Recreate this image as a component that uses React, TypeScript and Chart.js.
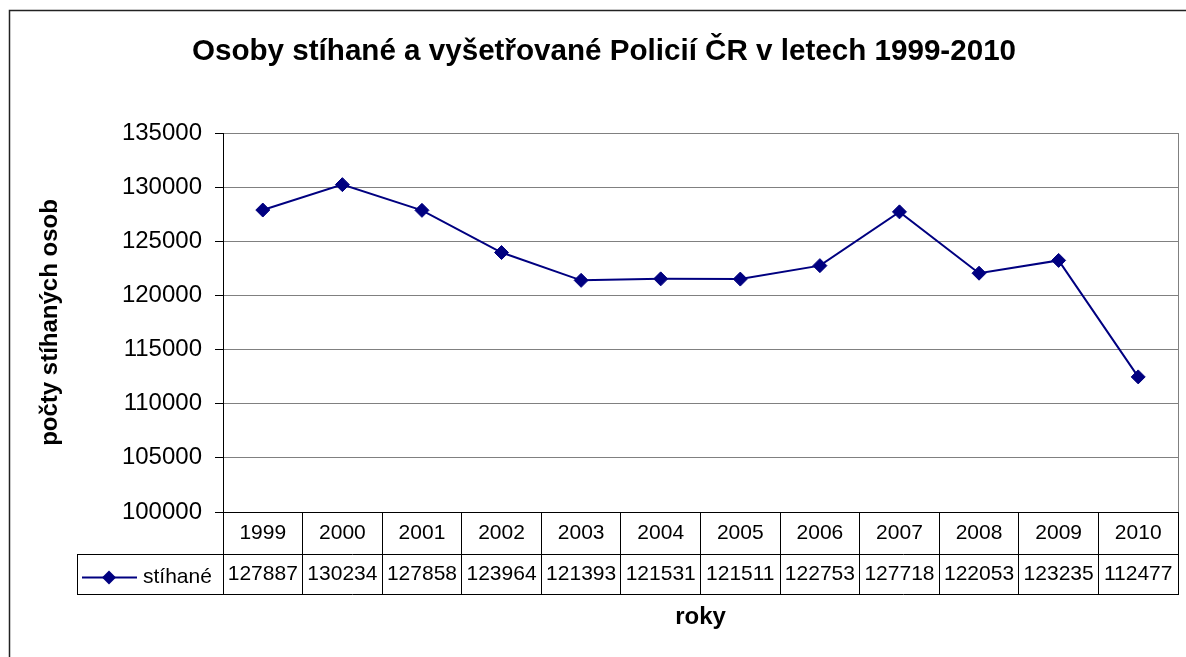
import React, { useEffect, useRef } from "react";
import { Chart, registerables } from "chart.js";

Chart.register(...registerables);

const chartTitle = "Osoby stíhané a vyšetřované Policií ČR v letech 1999-2010";
const years = ["1999", "2000", "2001", "2002", "2003", "2004", "2005", "2006", "2007", "2008", "2009", "2010"];
const stihane = [127887, 130234, 127858, 123964, 121393, 121531, 121511, 122753, 127718, 122053, 123235, 112477];
const seriesName = "stíhané";
const yMin = 100000;
const yMax = 135000;
const yStep = 5000;
const yAxisTitle = "počty stíhaných osob";
const xAxisTitle = "roky";

const FONT = "'Liberation Sans', Arial, sans-serif";
const NAVY = "#000080";

const al = (v: number) => Math.floor(v) + 0.5;

const tablePlugin = {
  id: "dataTable",
  afterDraw(chart: any) {
    const { ctx, chartArea, scales } = chart;
    const xs = scales.x;
    const top = xs.top;
    const row1 = top + 42;
    const row2 = top + 82;
    const legendLeft = 77;
    ctx.save();
    // outer frame
    ctx.strokeStyle = "#222";
    ctx.lineWidth = 1.5;
    ctx.beginPath();
    ctx.moveTo(9.5, chart.height);
    ctx.lineTo(9.5, 10.5);
    ctx.lineTo(chart.width, 10.5);
    ctx.stroke();
    ctx.lineWidth = 1;
    // plot area right border
    ctx.strokeStyle = "#808080";
    ctx.beginPath();
    ctx.moveTo(al(chartArea.right), chartArea.top);
    ctx.lineTo(al(chartArea.right), chartArea.bottom);
    ctx.stroke();
    // table lines
    ctx.strokeStyle = "#000";
    ctx.beginPath();
    ctx.moveTo(legendLeft, al(row1));
    ctx.lineTo(chartArea.right + 1, al(row1));
    ctx.moveTo(legendLeft, al(row2));
    ctx.lineTo(chartArea.right + 1, al(row2));
    ctx.moveTo(al(legendLeft), row1);
    ctx.lineTo(al(legendLeft), row2);
    ctx.stroke();
    // values row
    const midY = (row1 + row2) / 2 + 0.5;
    ctx.fillStyle = "#000";
    ctx.font = `21px ${FONT}`;
    ctx.textAlign = "center";
    ctx.textBaseline = "middle";
    const data = chart.data.datasets[0].data as number[];
    data.forEach((v, i) => {
      ctx.fillText(String(v), xs.getPixelForValue(i), midY);
    });
    // legend sample
    const ly = midY + 3;
    ctx.strokeStyle = NAVY;
    ctx.lineWidth = 2;
    ctx.beginPath();
    ctx.moveTo(82, ly);
    ctx.lineTo(137, ly);
    ctx.stroke();
    ctx.fillStyle = NAVY;
    ctx.beginPath();
    ctx.moveTo(109, ly - 7);
    ctx.lineTo(116, ly);
    ctx.lineTo(109, ly + 7);
    ctx.lineTo(102, ly);
    ctx.closePath();
    ctx.fill();
    ctx.fillStyle = "#000";
    ctx.textAlign = "left";
    ctx.fillText(chart.data.datasets[0].label, 143, ly);
    ctx.restore();
  },
};

export default function App() {
  const ref = useRef<HTMLCanvasElement | null>(null);
  useEffect(() => {
    if (!ref.current) return;
    Chart.defaults.font.family = FONT;
    Chart.defaults.color = "#000";
    const chart = new Chart(ref.current, {
      type: "line",
      data: {
        labels: years,
        datasets: [
          {
            label: seriesName,
            data: stihane,
            borderColor: NAVY,
            backgroundColor: NAVY,
            borderWidth: 2,
            pointStyle: "rectRot",
            pointRadius: 7,
            pointBackgroundColor: NAVY,
            pointBorderColor: NAVY,
            pointBorderWidth: 1,
            tension: 0,
            clip: false as any,
          },
        ],
      },
      options: {
        responsive: false,
        animation: false,
        devicePixelRatio: 1,
        layout: { padding: { left: 29, right: 7, top: 0, bottom: 0 } },
        plugins: {
          legend: { display: false },
          tooltip: { enabled: false },
          title: {
            display: true,
            text: chartTitle,
            color: "#000",
            font: { size: 29.6, weight: "bold", family: FONT },
            padding: { top: 34.5, bottom: 63 },
          },
        },
        scales: {
          x: {
            type: "category",
            offset: true,
            grid: {
              display: true,
              offset: true,
              drawOnChartArea: false,
              drawTicks: true,
              tickLength: 82,
              tickColor: "#000",
              tickWidth: 1,
            },
            border: { display: true, color: "#000", width: 1 },
            ticks: {
              autoSkip: false,
              maxRotation: 0,
              minRotation: 0,
              padding: -73.6,
              color: "#000",
              font: { size: 21, family: FONT },
            },
            title: {
              display: true,
              text: xAxisTitle,
              color: "#000",
              font: { size: 24, weight: "bold", family: FONT },
              padding: { top: 0, bottom: 25.6 },
            },
            afterFit: (s: any) => {
              s.height = 145;
            },
          },
          y: {
            min: yMin,
            max: yMax,
            ticks: {
              stepSize: yStep,
              padding: 13,
              color: "#000",
              font: { size: 24, family: FONT },
              callback: (v: any) => String(v),
            },
            grid: {
              color: "#808080",
              tickColor: "#000",
              tickLength: 8,
              drawTicks: true,
            },
            border: { display: true, color: "#000", width: 1 },
            title: {
              display: true,
              text: yAxisTitle,
              color: "#000",
              font: { size: 24, weight: "bold", family: FONT },
              padding: { top: 6.6, bottom: 0 },
            },
            afterFit: (s: any) => {
              s.width = 194;
            },
          },
        },
      } as any,
      plugins: [tablePlugin],
    });
    return () => chart.destroy();
  }, []);
  return (
    <div style={{ position: "fixed", left: 0, top: 0, width: 1186, height: 657, background: "#fff" }}>
      <canvas ref={ref} width={1186} height={657} style={{ display: "block" }} />
    </div>
  );
}
